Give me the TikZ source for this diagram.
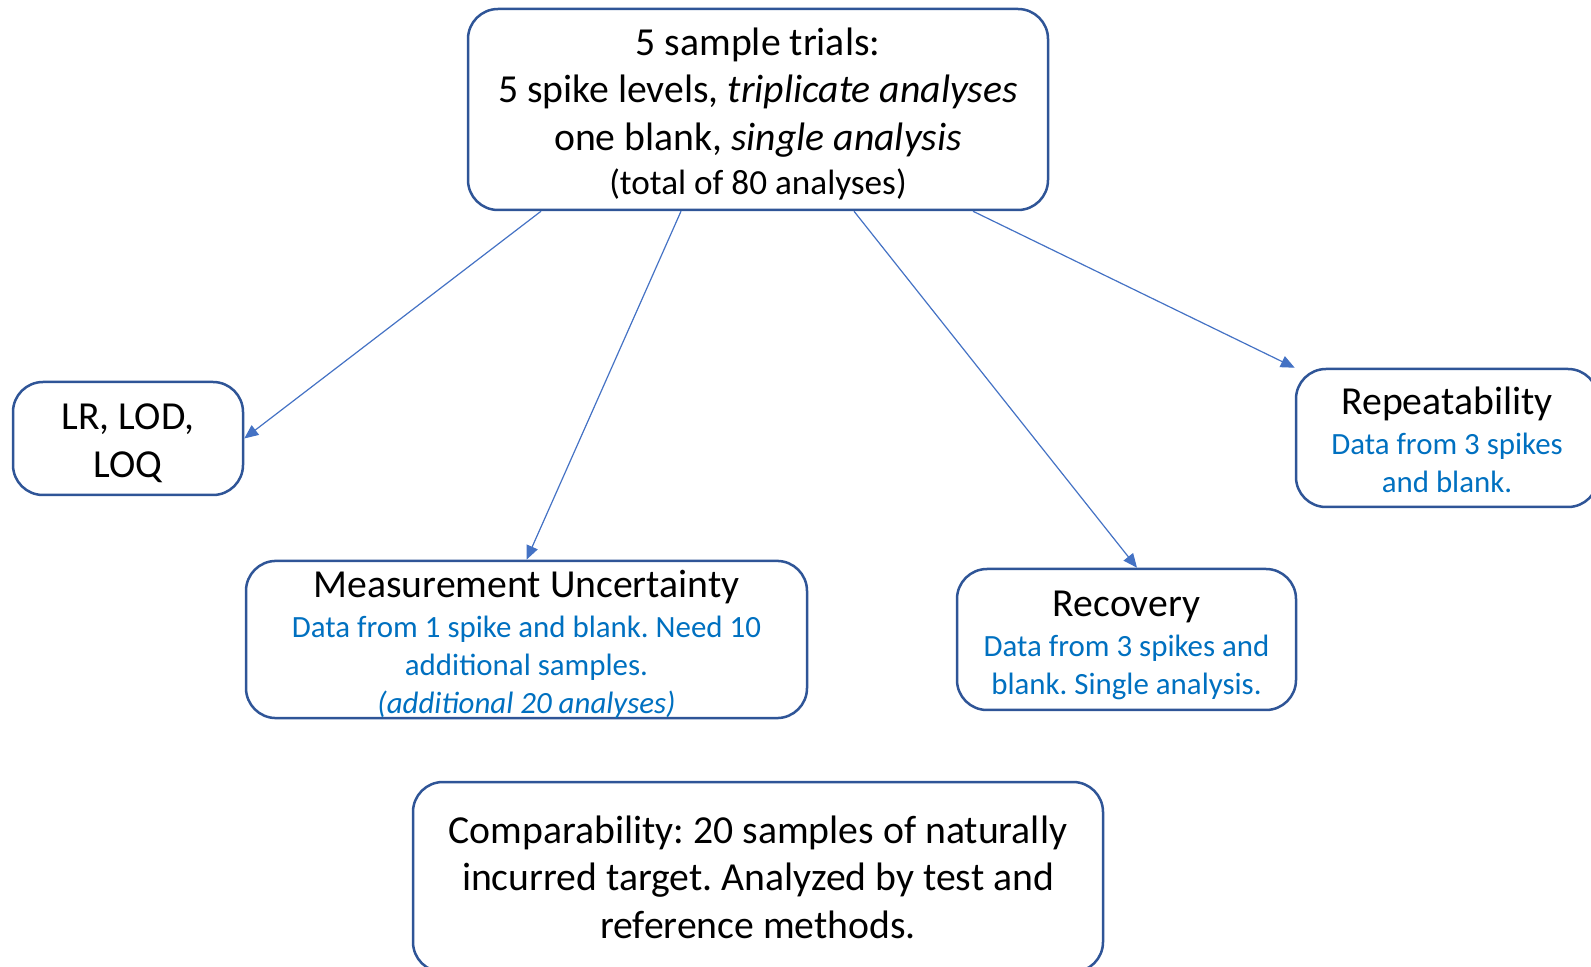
\documentclass[tikz,border=0pt]{standalone}
\usepackage{fontspec}
\setmainfont{Carlito}
\frenchspacing
\usetikzlibrary{arrows.meta}
\definecolor{boxblue}{RGB}{47,85,151}
\definecolor{linkblue}{RGB}{68,114,196}
\definecolor{txtblue}{RGB}{0,112,192}
\tikzset{
	sub/.style={font=\fontsize{15.45}{18.8}\selectfont, text=txtblue},
	link/.style={draw=linkblue, line width=0.6pt, -{Triangle[length=7pt,width=6pt]}}
}
\newcommand{\lift}[1]{\raisebox{#1}{\vphantom{l}}}
\newcommand{\boxtitle}[2]{{\color{black}\fontsize{19.85}{23.8}\selectfont\lift{#1}#2}}
\begin{document}
\begin{tikzpicture}[x=0.5pt, y=-0.5pt, every node/.style={draw=boxblue, line width=1.25pt, rounded corners=15pt, align=center, font=\fontsize{19.85}{23.8}\selectfont}]
			\useasboundingbox (0,0) rectangle (1591,967);

			\node[minimum width=290pt, minimum height=100.5pt] (trials) at (758,109.5) {\lift{4.5pt}5 sample trials:\\ 5 spike levels, \textit{triplicate analyses}\\ one blank, \textit{single analysis}\\[-1.5pt] {\fontsize{17.6}{19}\selectfont (total of 80 analyses)}};
			\node[minimum width=115pt, minimum height=56.5pt] (lr) at (128,438.5) {\lift{3.6pt}LR, LOD,\\ LOQ};
			\node[sub, inner ysep=0pt, minimum width=280.5pt, minimum height=76.5pt] (mu) at (526.5,639.5) {\boxtitle{4.6pt}{Measurement Uncertainty}\\[1.3pt] Data from 1 spike and blank. Need 10\\ additional samples.\\ \textit{(additional 20 analyses)}};
			\node[sub, minimum width=169.5pt, minimum height=70.5pt] (rec) at (1126.5,639.5) {\boxtitle{5pt}{Recovery}\\[1.3pt] Data from 3 spikes and\\ blank. Single analysis.};
			\node[sub, minimum width=151pt, minimum height=69pt] (rep) at (1447,438) {\boxtitle{2pt}{Repeatability}\\[1.3pt] Data from 3 spikes\\ and blank.};
			\node[minimum width=345pt, minimum height=95pt] (comp) at (758,877) {Comparability: 20 samples of naturally\\ incurred target. Analyzed by test and\\ reference methods.};

			\draw[link] ([xshift=-108.5pt]trials.south) -- (lr.east);
			\draw[link] ([xshift=-38.5pt]trials.south) -- (mu.north);
			\draw[link] ([xshift=48pt]trials.south) -- ([xshift=5.25pt]rec.north);
			\draw[link] ([xshift=107.5pt]trials.south) -- (rep.north west);
		\end{tikzpicture}
\end{document}
